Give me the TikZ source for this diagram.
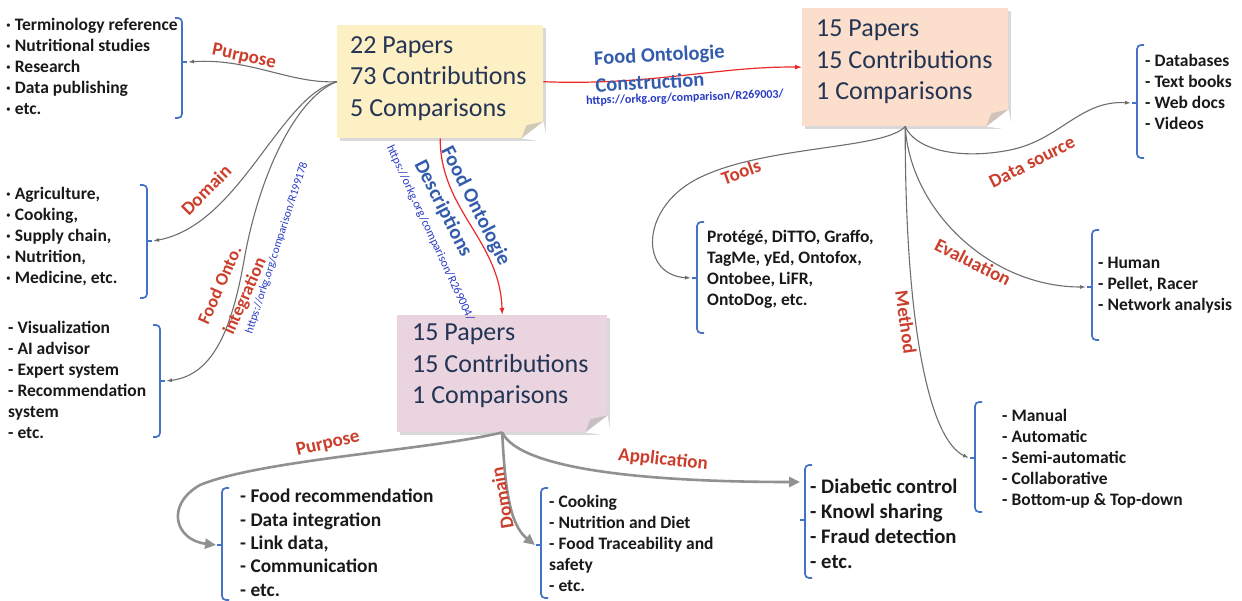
\documentclass[tikz,border=0pt]{standalone}
\usepackage{fontspec}
\setmainfont{Carlito}
\usetikzlibrary{arrows.meta}
\usetikzlibrary{shadows}
\definecolor{notey}{RGB}{253,240,197}
\definecolor{notep}{RGB}{251,222,203}
\definecolor{notek}{RGB}{233,212,223}
\definecolor{boxtxt}{RGB}{36,52,84}
\definecolor{brakblue}{RGB}{68,114,196}
\definecolor{lblred}{RGB}{204,62,44}
\definecolor{lnkblue}{RGB}{52,92,172}
\definecolor{urlblue}{RGB}{40,58,196}
\definecolor{edgegray}{RGB}{110,110,110}
\definecolor{boughgray}{RGB}{145,145,145}
\definecolor{flowred}{RGB}{236,40,40}
% folded corner of a note
\newcommand{\fold}[2]{%
  \fill[white] ([xshift=-22pt]#1.south east) -- ([shift={(4pt,-4pt)}]#1.south east) -- ([yshift=17pt]#1.south east) -- cycle;
  \fill[#2] ([xshift=-22pt]#1.south east) -- ([yshift=17pt]#1.south east) -- ([shift={(-17pt,13pt)}]#1.south east) -- cycle;}

\begin{document}
\begin{tikzpicture}[x=1pt, y=-1pt,
    note/.style = {fill=#1, anchor=north west, inner sep=0pt,
                   drop shadow={shadow xshift=3pt, shadow yshift=-3pt, opacity=.3}},
    notetxt/.style = {text=boxtxt, align=left, anchor=north west, inner sep=0pt,
                      font=\fontsize{26}{31.5}\selectfont},
    items/.style = {align=left, anchor=north west, inner sep=0pt, text=black!90,
                    font=\bfseries\fontsize{17.5}{21}\selectfont},
    brak/.style = {draw=brakblue, line width=1.7pt, rounded corners=4pt},
    twig/.style = {draw=edgegray, line width=1.1pt, -{Latex[length=6pt,width=4pt]}},
    bough/.style = {draw=boughgray, line width=2.6pt, -{Triangle[length=11pt,width=10pt]}},
    flow/.style = {draw=flowred, line width=1.2pt, -{Latex[length=7pt,width=5pt]}},
    lbl/.style = {text=lblred, inner sep=0pt, font=\bfseries\fontsize{19}{21}\selectfont},
    onto/.style = {text=lnkblue, align=left, inner sep=0pt, font=\bfseries\fontsize{20.5}{27}\selectfont},
    url/.style = {text=urlblue, inner sep=0pt, font=\fontsize{12}{14}\selectfont}
                    ]
    \useasboundingbox (0,0) rectangle (1242,601);

    % the three notes
    \node[note=notey, minimum width=206pt, minimum height=113pt] (b1) at (337,25) {};
    \fold{b1}{notey!70!black!60}
    \node[notetxt] (t1) at (350,36) {22 Papers\\73 Contributions\\5 Comparisons};
    \node[note=notep, minimum width=206pt, minimum height=118pt] (b2) at (802,8) {};
    \fold{b2}{notep!70!black!60}
    \node[notetxt] (t2) at (816,20) {15 Papers\\15 Contributions\\1 Comparisons};
    \node[note=notek, minimum width=210pt, minimum height=117pt] (b3) at (397,315) {};
    \fold{b3}{notek!70!black!60}
    \node[notetxt] (t3) at (412,324) {15 Papers\\15 Contributions\\1 Comparisons};

    % lists
    \node[items] (l1) at (6,18) {· Terminology reference\\· Nutritional studies\\· Research\\· Data publishing\\· etc.};
    \node[items] (l2) at (6,187) {· Agriculture,\\· Cooking,\\· Supply chain,\\· Nutrition,\\· Medicine, etc.};
    \node[items] (l3) at (8,321) {- Visualization\\- AI advisor\\- Expert system\\- Recommendation\\system\\- etc.};
    \node[items] (l4) at (707,230) {Protégé, DiTTO, Graffo,\\TagMe, yEd, Ontofox,\\Ontobee, LiFR,\\OntoDog, etc.};
    \node[items] (l5) at (1145,54) {- Databases\\- Text books\\- Web docs\\- Videos};
    \node[items] (l6) at (1098,257) {- Human\\- Pellet, Racer\\- Network analysis};
    \node[items] (l7) at (1002,409) {- Manual\\- Automatic\\- Semi-automatic\\- Collaborative\\- Bottom-up \& Top-down};
    \node[items, font=\bfseries\fontsize{19.4}{23.3}\selectfont] (l8) at (240,489) {- Food recommendation\\- Data integration\\- Link data,\\- Communication\\- etc.};
    \node[items] (l9) at (549,495) {- Cooking\\- Nutrition and Diet\\- Food Traceability and\\safety\\- etc.};
    \node[items, font=\bfseries\fontsize{20.7}{25}\selectfont] (l10) at (810,479) {- Diabetic control\\- Knowl sharing\\- Fraud detection\\- etc.};

    % brackets
    \foreach \n/\x/\tp/\bt/\m in {pur1/182/18/118/62, dom1/147/185/298/241, int1/160/325/437/381}{
        \draw[brak] (\x-7,\tp) -- (\x,\tp) -- (\x,\bt) -- (\x-7,\bt);
        \draw[brak] (\x,\m) -- (\x+5,\m);
        \coordinate (\n) at (\x+6,\m);
    }
    \foreach \n/\x/\tp/\bt/\m in {tlb/697/222/333/278, dsb/1137/45/158/103, evb/1092/230/340/287,
                                  meb/975/402/512/458, bpb/222/488/600/545, bdb/541/488/598/545, apb/805/465/578/520}{
        \draw[brak] (\x+7,\tp) -- (\x,\tp) -- (\x,\bt) -- (\x+7,\bt);
        \draw[brak] (\x,\m) -- (\x-5,\m);
        \coordinate (\n) at (\x-6,\m);
    }
    \coordinate (appin) at (800,482);

    % connectors
    \draw[twig] (b1.west) .. controls (290,84) and (250,58) .. (pur1);
    \draw[twig] (b1.west) .. controls (280,95) and (240,225) .. (dom1);
    \draw[twig] (b1.west) .. controls (300,95) and (262,165) .. (245,255) .. controls (233,325) and (215,375) .. (int1);
    \draw[flow] (b1.east) .. controls (650,86) and (720,66) .. (b2.west);
    \draw[flow] (b1.south) .. controls (440,210) and (500,240) .. (b3.north);
    \draw[twig] (b2.south) .. controls (885,150) and (760,145) .. (695,180) .. controls (640,210) and (640,275) .. (tlb);
    \draw[twig] (b2.south) .. controls (915,150) and (960,160) .. (1010,150) .. controls (1060,140) and (1080,100) .. (dsb);
    \draw[twig] (b2.south) .. controls (910,210) and (990,287) .. (evb);
    \draw[twig] (b2.south) .. controls (905,330) and (930,440) .. (meb);
    \draw[bough] (b3.south) .. controls (430,450) and (260,460) .. (200,485) .. controls (165,505) and (175,540) .. (bpb);
    \draw[bough] (b3.south) .. controls (505,490) and (510,525) .. (bdb);
    \draw[bough] (b3.south) .. controls (520,470) and (650,482) .. (appin);

    % labels
    \node[lbl, rotate=-12] (lpur) at (244,57) {Purpose};
    \node[lbl, rotate=45] (ldom) at (206,190) {Domain};
    \node[lbl, rotate=66, align=center, font=\bfseries\fontsize{18}{27}\selectfont] (lint) at (233,291) {Food Onto.\\integration};
    \node[url, rotate=72, font=\fontsize{11.5}{13}\selectfont] (uint) at (277,248) {https://orkg.org/comparison/R199178};
    \node[onto, rotate=3] (lcon) at (660,68) {Food Ontologie\\Construction};
    \node[url, rotate=2, font=\bfseries\fontsize{12}{14}\selectfont] (ucon) at (685,98) {https://orkg.org/comparison/R269003/};
    \node[onto, rotate=-63, font=\bfseries\fontsize{20.5}{30}\selectfont] (ldes) at (462,213) {Food Ontologie\\Descriptions};
    \node[url, rotate=-65] (udes) at (430,233) {https://orkg.org/comparison/R269004/};
    \node[lbl, rotate=20] (ltool) at (741,172) {Tools};
    \node[lbl, rotate=27] (lds) at (1032,162) {Data source};
    \node[lbl, rotate=-27] (lev) at (973,262) {Evaluation};
    \node[lbl, rotate=-82] (lme) at (906,322) {Method};
    \node[lbl, rotate=13] (lbp) at (328,444) {Purpose};
    \node[lbl, rotate=100] (lbd) at (502,498) {Domain};
    \node[lbl, rotate=-6] (lapp) at (663,460) {Application};
\end{tikzpicture}
\end{document}
